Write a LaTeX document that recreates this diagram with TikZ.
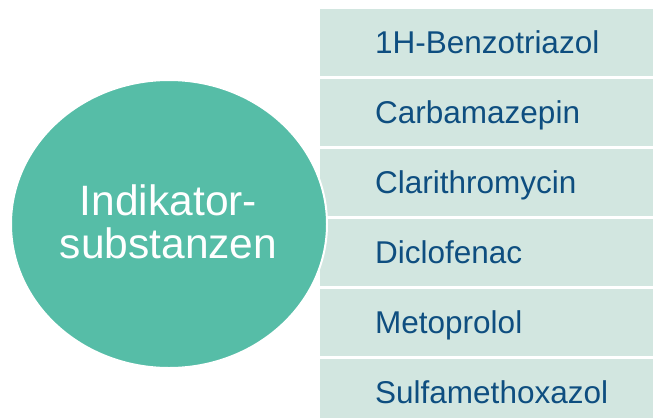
\documentclass[tikz,border=0pt]{standalone}
\usepackage{fontspec}
\setmainfont{Liberation Sans}
\usetikzlibrary{shapes.geometric}
\definecolor{hubfill}{RGB}{86,189,167}
\definecolor{boxc}{RGB}{210,230,224}
\definecolor{txtc}{RGB}{14,78,128}
\begin{document}
\begin{tikzpicture}[x=1pt,y=-1pt,
  rowbox/.style={fill=boxc, draw=none, minimum width=333pt, minimum height=66.7pt, anchor=north west, inner sep=0pt, outer sep=0pt},
  rowlbl/.style={text=txtc, font=\fontsize{31.5}{37}\selectfont, anchor=base west, inner sep=0pt},
  hub/.style={ellipse, fill=hubfill, draw=white, line width=2pt, minimum width=316pt, minimum height=288pt, text=white, align=center, font=\fontsize{42.5}{43.6}\selectfont, inner sep=0pt}]
\useasboundingbox (0,0) rectangle (653,418);
\node[rowbox] (r1) at (320,9.3) {};
\node[rowbox] (r2) at (320,79.3) {};
\node[rowbox] (r3) at (320,149.3) {};
\node[rowbox] (r4) at (320,219.3) {};
\node[rowbox] (r5) at (320,289.3) {};
\node[rowbox, minimum height=58.7pt] (r6) at (320,359.3) {};
\node[rowlbl] (l1) at (375,53) {1H-Benzotriazol};
\node[rowlbl] (l2) at (375,123) {Carbamazepin};
\node[rowlbl] (l3) at (375,193) {Clarithromycin};
\node[rowlbl] (l4) at (375,263) {Diclofenac};
\node[rowlbl] (l5) at (375,333) {Metoprolol};
\node[rowlbl] (l6) at (375,403) {Sulfamethoxazol};
\node[hub] (hub) at (169,224) {};
\node[text=white, align=center, font=\fontsize{42.5}{43.6}\selectfont, inner sep=0pt] (hubtxt) at (168.5,222) {Indikator-\\substanzen};
\end{tikzpicture}
\end{document}
